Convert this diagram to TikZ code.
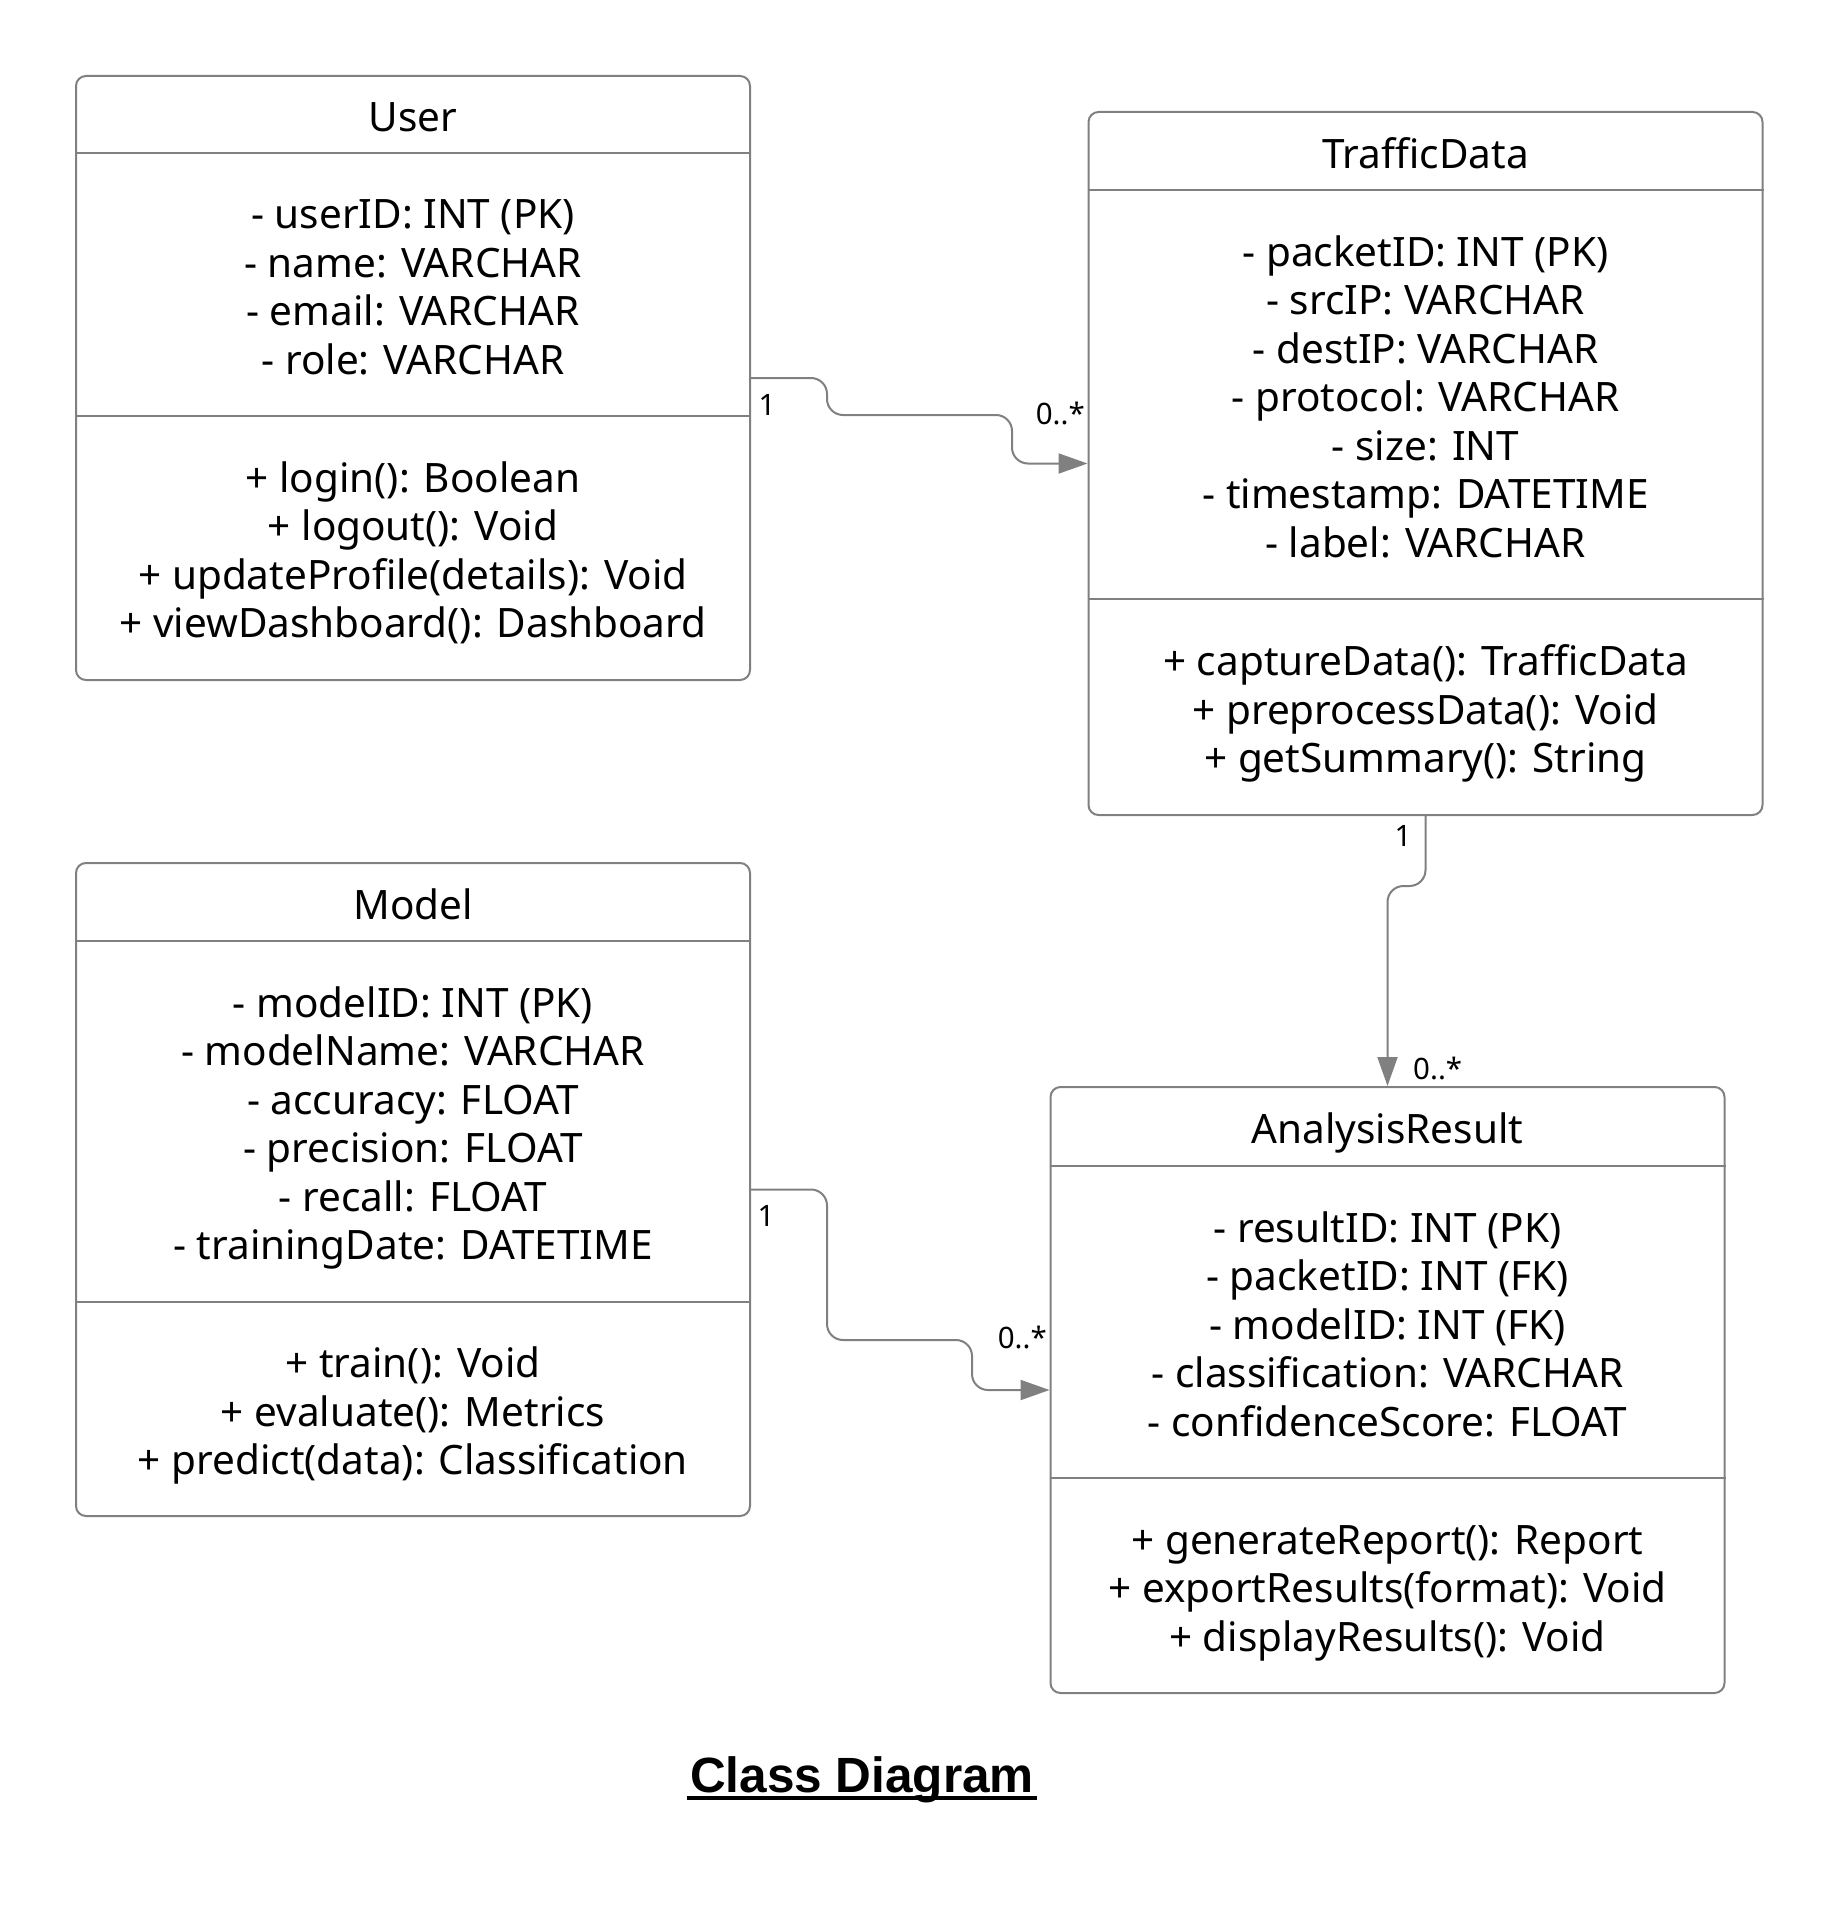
\documentclass[tikz,border=0pt]{standalone}
\usepackage{fontspec}
\setmainfont{Noto Sans}
\newfontfamily\titlefont{Liberation Sans}
\usetikzlibrary{arrows.meta}
\definecolor{lineg}{RGB}{128,128,128}
\begin{document}
\begin{tikzpicture}[x=1pt,y=-1pt,
  box/.style={draw=lineg, line width=2pt, rounded corners=10pt, minimum width=674pt, inner sep=0pt},
  txt/.style={align=center, font=\fontsize{40.5}{48.5}\selectfont, inner sep=0pt, yshift=-7.5pt},
  conn/.style={draw=lineg, line width=2pt, rounded corners=16pt, -{Triangle[length=29pt,width=20pt]}},
  mult/.style={font=\fontsize{29.5}{34}\selectfont, inner sep=0pt},
  sepline/.style={draw=lineg, line width=2pt}]
\useasboundingbox[fill=white] (0,0) rectangle (1838,1913);

% ---------- User ----------
\node[box, minimum height=604pt] (user) at (413,378) {};
\draw[sepline] (user.west |- 0,153) -- (user.east |- 0,153);
\draw[sepline] (user.west |- 0,416) -- (user.east |- 0,416);
\node[txt] (userT) at (413,114.5) {\strut User};
\node[txt] (userA) at (413,284.5) {\strut - userID: INT (PK)\\\strut - name: VARCHAR\\\strut - email: VARCHAR\\\strut - role: VARCHAR};
\node[txt] (userM) at (413,548) {\strut + login(): Boolean\\\strut + logout(): Void\\\strut + updateProfile(details): Void\\\strut + viewDashboard(): Dashboard};

% ---------- TrafficData ----------
\node[box, minimum height=703pt] (traffic) at (1425.5,463.5) {};
\draw[sepline] (traffic.west |- 0,190) -- (traffic.east |- 0,190);
\draw[sepline] (traffic.west |- 0,599) -- (traffic.east |- 0,599);
\node[txt] (trafficT) at (1425.5,151) {\strut TrafficData};
\node[txt] (trafficA) at (1425.5,394.5) {\strut - packetID: INT (PK)\\\strut - srcIP: VARCHAR\\\strut - destIP: VARCHAR\\\strut - protocol: VARCHAR\\\strut - size: INT\\\strut - timestamp: DATETIME\\\strut - label: VARCHAR};
\node[txt] (trafficM) at (1425.5,707) {\strut + captureData(): TrafficData\\\strut + preprocessData(): Void\\\strut + getSummary(): String};

% ---------- Model ----------
\node[box, minimum height=653pt] (model) at (413,1189.5) {};
\draw[sepline] (model.west |- 0,941) -- (model.east |- 0,941);
\draw[sepline] (model.west |- 0,1302) -- (model.east |- 0,1302);
\node[txt] (modelT) at (413,902) {\strut Model};
\node[txt] (modelA) at (413,1121.5) {\strut - modelID: INT (PK)\\\strut - modelName: VARCHAR\\\strut - accuracy: FLOAT\\\strut - precision: FLOAT\\\strut - recall: FLOAT\\\strut - trainingDate: DATETIME};
\node[txt] (modelM) at (413,1409) {\strut + train(): Void\\\strut + evaluate(): Metrics\\\strut + predict(data): Classification};

% ---------- AnalysisResult ----------
\node[box, minimum height=606pt] (result) at (1387.5,1390) {};
\draw[sepline] (result.west |- 0,1166) -- (result.east |- 0,1166);
\draw[sepline] (result.west |- 0,1478) -- (result.east |- 0,1478);
\node[txt] (resultT) at (1387.5,1126.5) {\strut AnalysisResult};
\node[txt] (resultA) at (1387.5,1322) {\strut - resultID: INT (PK)\\\strut - packetID: INT (FK)\\\strut - modelID: INT (FK)\\\strut - classification: VARCHAR\\\strut - confidenceScore: FLOAT};
\node[txt] (resultM) at (1387.5,1585.5) {\strut + generateReport(): Report\\\strut + exportResults(format): Void\\\strut + displayResults(): Void};

% ---------- connectors ----------
\draw[conn] (user.east) -- (827,378) -- (827,415) -- (1012,415) -- (1012,463.5) -- (traffic.west);
\draw[conn] (traffic.south) -- (1425.5,886) -- (1387.5,886) -- (result.north);
\draw[conn] (model.east) -- (827,1189.5) -- (827,1340) -- (972,1340) -- (972,1390) -- (result.west);

% ---------- multiplicities ----------
\node[mult] (m1a) at (767,404.5) {1};
\node[mult, anchor=east] (m1b) at (1085,413) {0..*};
\node[mult] (m2a) at (1403,836) {1};
\node[mult, anchor=west] (m2b) at (1413,1068) {0..*};
\node[mult] (m3a) at (766,1216) {1};
\node[mult, anchor=east] (m3b) at (1047,1337) {0..*};

% ---------- title ----------
\node[font=\titlefont\bfseries\fontsize{49.5}{60}\selectfont, inner sep=0pt, anchor=base] (title) at (862,1792) {Class Diagram};
\draw[line width=4.5pt] ([xshift=-3pt,yshift=-6pt]title.base west) -- ([xshift=3pt,yshift=-6pt]title.base east);
\end{tikzpicture}
\end{document}
